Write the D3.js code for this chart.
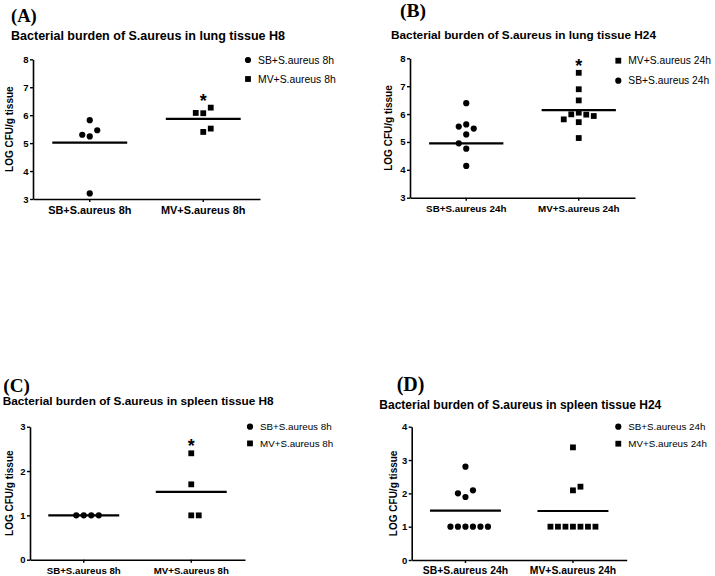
<!DOCTYPE html>
<html>
<head>
<meta charset="utf-8">
<script src="https://cdn.jsdelivr.net/npm/d3@7"></script>
<style>
  html, body { margin: 0; padding: 0; background: #fff; }
  svg { display: block; }
  text { font-family: "Liberation Sans", Arial, sans-serif; fill: #000; }
</style>
</head>
<body>
<svg id="chart" width="715" height="576"></svg>
<script>
// ---------------- DATA ----------------
// (A) lung tissue, 8 h
const lungH8Categories = ["SB+S.aureus 8h", "MV+S.aureus 8h"];
const lungH8SB = [5.82, 5.24, 5.46, 5.30, 3.20];
const lungH8MV = [6.07, 6.27, 6.08, 5.40, 5.52];
const lungH8Means = [5.02, 5.87];
const lungH8Ticks = [3, 4, 5, 6, 7, 8];
const lungH8Legend = ["SB+S.aureus 8h", "MV+S.aureus 8h"];
const lungH8Star = [false, true];

// (B) lung tissue, 24 h
const lungH24Categories = ["SB+S.aureus 24h", "MV+S.aureus 24h"];
const lungH24SB = [6.39, 5.63, 5.48, 5.55, 5.27, 4.95, 4.76, 4.14];
const lungH24MV = [7.48, 6.89, 6.49, 6.05, 5.98, 5.99, 5.93, 5.81, 5.71, 5.14];
const lungH24Means = [4.95, 6.14];
const lungH24Ticks = [3, 4, 5, 6, 7, 8];
const lungH24Legend = ["MV+S.aureus 24h", "SB+S.aureus 24h"];
const lungH24Star = [false, true];

// (C) spleen tissue, 8 h
const spleenH8Categories = ["SB+S.aureus 8h", "MV+S.aureus 8h"];
const spleenH8SB = [1.0, 1.0, 1.0, 1.0];
const spleenH8MV = [2.40, 1.70, 1.0, 1.0];
const spleenH8Means = [1.0, 1.53];
const spleenH8Ticks = [0, 1, 2, 3];
const spleenH8Legend = ["SB+S.aureus 8h", "MV+S.aureus 8h"];
const spleenH8Star = [false, true];

// (D) spleen tissue, 24 h
const spleenH24Categories = ["SB+S.aureus 24h", "MV+S.aureus 24h"];
const spleenH24SB = [2.80, 1.89, 2.09, 2.00, 1.0, 1.0, 1.0, 1.0, 1.0, 1.0];
const spleenH24MV = [3.38, 2.09, 2.20, 1.0, 1.0, 1.0, 1.0, 1.0, 1.0, 1.0];
const spleenH24Means = [1.48, 1.47];
const spleenH24Ticks = [0, 1, 2, 3, 4];
const spleenH24Legend = ["SB+S.aureus 24h", "MV+S.aureus 24h"];
const spleenH24Star = [false, false];

const panelLabels = ["(A)", "(B)", "(C)", "(D)"];
const panelTitles = [
  "Bacterial burden of S.aureus in lung tissue H8",
  "Bacterial burden of S.aureus in lung tissue H24",
  "Bacterial burden of S.aureus in spleen tissue H8",
  "Bacterial burden of S.aureus in spleen tissue H24"
];
const yAxisTitle = "LOG CFU/g tissue";

// ---------------- LAYOUT ----------------
const panels = [
  { cats: lungH8Categories, groups: [lungH8SB, lungH8MV], means: lungH8Means, ticks: lungH8Ticks,
    legend: lungH8Legend, legendShapes: ["circle", "square"], star: lungH8Star,
    L: { x0: 33, x1: 260, yTop: 59.3, yBot: 199, titleX: 11, titleY: 40, titleSize: 12.5, titleW: 274,
         labX: 11, labY: 21.7, labSize: 18.5, ylabX: 12.7, catSize: 10.9,
         legX: 248, legY: 60, legGap: 19, legSize: 10.4 } },
  { cats: lungH24Categories, groups: [lungH24SB, lungH24MV], means: lungH24Means, ticks: lungH24Ticks,
    legend: lungH24Legend, legendShapes: ["square", "circle"], star: lungH24Star,
    L: { x0: 410, x1: 635, yTop: 58.3, yBot: 197.7, titleX: 391, titleY: 39.3, titleSize: 11.8, titleW: 265,
         labX: 400, labY: 17.3, labSize: 19.5, ylabX: 391.5, catSize: 9.8,
         legX: 618.3, legY: 60.7, legGap: 20, legSize: 10.3 } },
  { cats: spleenH8Categories, groups: [spleenH8SB, spleenH8MV], means: spleenH8Means, ticks: spleenH8Ticks,
    legend: spleenH8Legend, legendShapes: ["circle", "square"], star: spleenH8Star,
    L: { x0: 30, x1: 245, yTop: 426.7, yBot: 559.7, titleX: 2.7, titleY: 405, titleSize: 11.8, titleW: 271,
         labX: 3.3, labY: 391.7, labSize: 19.2, ylabX: 13, catSize: 9.7,
         legX: 250, legY: 426.7, legGap: 16.7, legSize: 9.8 } },
  { cats: spleenH24Categories, groups: [spleenH24SB, spleenH24MV], means: spleenH24Means, ticks: spleenH24Ticks,
    legend: spleenH24Legend, legendShapes: ["circle", "square"], star: spleenH24Star,
    L: { x0: 411.7, x1: 626.7, yTop: 426.7, yBot: 560, titleX: 379.3, titleY: 409.3, titleSize: 12.0, titleW: 282,
         labX: 396.7, labY: 390.7, labSize: 20, ylabX: 396.5, catSize: 10.4,
         legX: 618.3, legY: 426.7, legGap: 17, legSize: 9.8 } }
];
const shapeOf = ["circle", "square"];
const SLOT_PX = 7.5;
const COLLIDE = 9.2;
const CIRCLE_R = 3.1;
const SQUARE = 5.8;

const svg = d3.select("#chart");

function swarmSlots(values, y) {
  const placed = [];
  return values.map(v => {
    const py = y(v);
    const room = s => {
      let m = Infinity;
      placed.forEach(p => { if (p.slot === s) m = Math.min(m, Math.abs(p.py - py)); });
      return m;
    };
    let slot = 0;
    if (room(0) < COLLIDE) {
      for (let k = 1; k < 30; k++) {
        const rp = room(k), rn = room(-k);
        const okp = rp >= COLLIDE, okn = rn >= COLLIDE;
        if (okp && okn) { slot = rn > rp ? -k : k; break; }
        if (okp) { slot = k; break; }
        if (okn) { slot = -k; break; }
      }
    }
    placed.push({ slot, py });
    return slot;
  });
}

function drawMarker(g, shape, cx, cy) {
  if (shape === "circle") {
    g.append("circle").attr("cx", cx).attr("cy", cy).attr("r", CIRCLE_R).attr("fill", "#000");
  } else {
    g.append("rect").attr("x", cx - SQUARE / 2).attr("y", cy - SQUARE / 2)
      .attr("width", SQUARE).attr("height", SQUARE).attr("fill", "#000");
  }
}

panels.forEach((p, i) => {
  const L = p.L;
  const g = svg.append("g");
  const x = d3.scaleBand().domain(p.cats).range([L.x0, L.x1]).padding(0);
  const y = d3.scaleLinear().domain(d3.extent(p.ticks)).range([L.yBot, L.yTop]);
  const slotX = d3.scaleLinear().domain([0, 1]).range([0, SLOT_PX]);

  // panel label and title
  g.append("text").attr("x", L.labX).attr("y", L.labY)
    .style("font-family", "'Liberation Serif', 'Times New Roman', serif")
    .style("font-weight", "bold").style("font-size", L.labSize + "px").text(panelLabels[i]);
  g.append("text").attr("x", L.titleX).attr("y", L.titleY)
    .attr("textLength", L.titleW).attr("lengthAdjust", "spacingAndGlyphs")
    .style("font-weight", "bold").style("font-size", L.titleSize + "px").text(panelTitles[i]);

  // axes
  const yAxis = d3.axisLeft(y).tickValues(p.ticks).tickFormat(d3.format("d"))
    .tickSize(3).tickSizeOuter(0).tickPadding(1.5);
  const ya = g.append("g").attr("transform", `translate(${L.x0},0)`).call(yAxis);
  const xAxis = d3.axisBottom(x).tickSize(3).tickSizeOuter(0).tickPadding(4);
  const xa = g.append("g").attr("transform", `translate(0,${L.yBot})`).call(xAxis);
  [ya, xa].forEach(a => {
    a.select(".domain").attr("stroke", "#000").attr("stroke-width", 1.6);
    a.selectAll(".tick line").attr("stroke", "#000").attr("stroke-width", 1.4);
    a.selectAll("text").attr("fill", "#000")
      .style("font-family", "'Liberation Sans', Arial, sans-serif").style("font-weight", "bold");
  });
  ya.selectAll("text").style("font-size", "9.5px");
  xa.selectAll("text").style("font-size", L.catSize + "px");

  // y-axis title
  g.append("text")
    .attr("transform", `translate(${L.ylabX},${(L.yTop + L.yBot) / 2}) rotate(-90)`)
    .attr("text-anchor", "middle").style("font-weight", "bold").style("font-size", "10px")
    .text(yAxisTitle);

  // points, mean lines, asterisks
  p.groups.forEach((vals, gi) => {
    const cx = x(p.cats[gi]) + x.bandwidth() / 2;
    const slots = swarmSlots(vals, y);
    vals.forEach((v, k) => drawMarker(g, shapeOf[gi], cx + slotX(slots[k]), y(v)));
    const half = x.bandwidth() * 0.33;
    g.append("line").attr("x1", cx - half).attr("x2", cx + half)
      .attr("y1", y(p.means[gi])).attr("y2", y(p.means[gi]))
      .attr("stroke", "#000").attr("stroke-width", 2.2);
    if (p.star[gi]) {
      const top = y(d3.max(vals)) - 11.5;
      g.append("text").attr("x", cx).attr("y", top + 10.5).attr("text-anchor", "middle")
        .style("font-size", "18px").style("font-weight", "bold").text("*");
    }
  });

  // legend
  p.legend.forEach((lab, li) => {
    const ly = L.legY + li * L.legGap;
    drawMarker(g, p.legendShapes[li], L.legX, ly);
    g.append("text").attr("x", L.legX + 10).attr("y", ly).attr("dy", "0.36em")
      .style("font-size", L.legSize + "px").text(lab);
  });
});
</script>
</body>
</html>
